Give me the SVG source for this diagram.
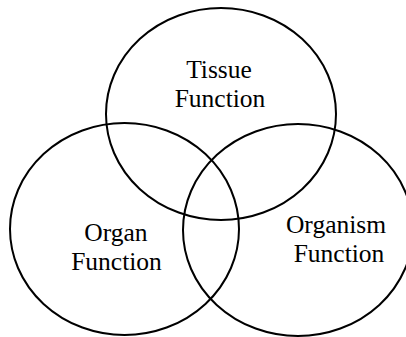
<svg xmlns="http://www.w3.org/2000/svg" width="406" height="337" viewBox="0 0 406 337">
<style>
.c{fill:none;stroke:#000;stroke-width:2}
.t{font-family:"Liberation Serif","Times New Roman",serif;font-size:25.5px;fill:#000;text-anchor:middle}
</style>
<rect width="406" height="337" fill="#fff"/>
<g id="connectors"></g>
<g id="tissue">
<ellipse class="c" cx="221" cy="114" rx="115" ry="106"/>
<text class="t" x="219" y="78">Tissue</text>
<text class="t" x="220" y="107">Function</text>
</g>
<g id="organ">
<ellipse class="c" cx="124.5" cy="229" rx="114.5" ry="106"/>
<text class="t" x="116" y="241">Organ</text>
<text class="t" x="116.5" y="270">Function</text>
</g>
<g id="organism">
<ellipse class="c" cx="298" cy="230" rx="115" ry="106"/>
<text class="t" x="336" y="233">Organism</text>
<text class="t" x="339" y="262">Function</text>
</g>
</svg>
